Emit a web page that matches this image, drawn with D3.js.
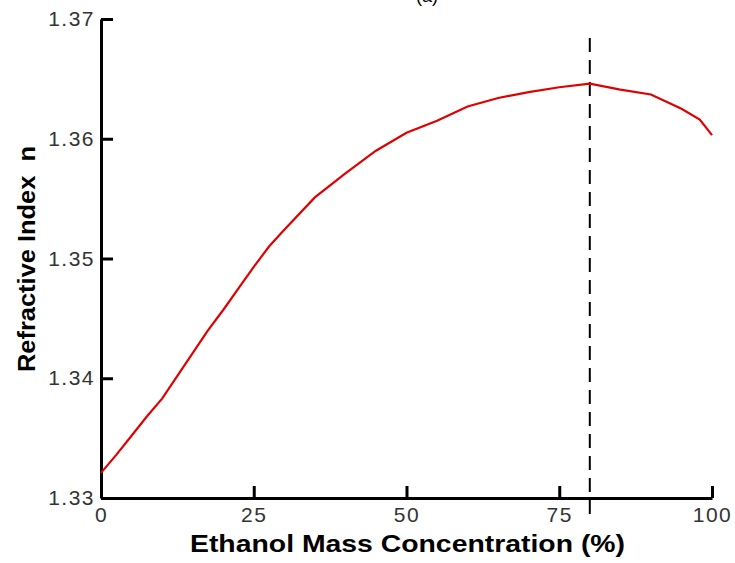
<!DOCTYPE html>
<html>
<head>
<meta charset="utf-8">
<script src="https://cdn.jsdelivr.net/npm/d3@7"></script>
<style>
  body { margin: 0; background: #fff; }
  svg { display: block; }
</style>
</head>
<body>
<div id="graph"></div>
<script>
// ethanol mass concentration (%) vs refractive index
var concentration = [0, 2.5, 5, 7.5, 10, 12.5, 15, 17.5, 20, 22.5, 25, 27.5, 30, 35, 40, 45, 50, 55, 60, 65, 70, 75, 80, 85, 90, 95, 98, 100];
var refractiveIndex = [1.3321, 1.3336, 1.3352, 1.3368, 1.3383, 1.3402, 1.3421, 1.3440, 1.3457, 1.3475, 1.3493, 1.3510, 1.3524, 1.3551, 1.3571, 1.3590, 1.3605, 1.3615, 1.3627, 1.3634, 1.3639, 1.3643, 1.3646, 1.3641, 1.3637, 1.3625, 1.3616, 1.3603];
var xTicks = [0, 25, 50, 75, 100];
var yTicks = [1.33, 1.34, 1.35, 1.36, 1.37];
var markerX = 80;

var width = 735, height = 563;

var svg = d3.select("#graph").append("svg")
    .attr("width", width)
    .attr("height", height);

var x = d3.scaleLinear().domain([0, 100]).range([101, 712]);
var y = d3.scaleLinear().domain([1.33, 1.37]).range([498, 19]);

var tickFont = "'Liberation Sans', Arial, sans-serif";

// x axis, ticks pointing inward
var xAxis = svg.append("g")
    .attr("transform", "translate(0," + y(1.33) + ")")
    .call(d3.axisBottom(x).tickValues(xTicks).tickSizeInner(-12).tickSizeOuter(0).tickPadding(9).tickFormat(d3.format("d")));
xAxis.select(".domain").attr("stroke-width", 3);
xAxis.selectAll(".tick line").attr("stroke-width", 3);
xAxis.selectAll(".tick text")
    .attr("font-family", tickFont).attr("font-size", 21)
    .attr("letter-spacing", 1.5).attr("fill", "#333");

// y axis
var yAxis = svg.append("g")
    .attr("transform", "translate(" + x(0) + ",0)")
    .call(d3.axisLeft(y).tickValues(yTicks).tickSizeInner(-12).tickSizeOuter(0).tickPadding(6).tickFormat(d3.format(".2f")));
yAxis.select(".domain").attr("stroke-width", 3);
yAxis.selectAll(".tick line").attr("stroke-width", 3);
yAxis.selectAll(".tick text")
    .attr("font-family", tickFont).attr("font-size", 21)
    .attr("letter-spacing", 1.5).attr("fill", "#333");

// dashed marker line
svg.append("line")
    .attr("x1", x(markerX)).attr("x2", x(markerX))
    .attr("y1", 38).attr("y2", 516)
    .attr("stroke", "#000")
    .attr("stroke-width", 2)
    .attr("stroke-dasharray", "14,8");

// curve
var pts = concentration.map(function(c, i) { return [c, refractiveIndex[i]]; });
var line = d3.line()
    .x(function(d) { return x(d[0]); })
    .y(function(d) { return y(d[1]); });

svg.append("path")
    .datum(pts)
    .attr("d", line)
    .attr("fill", "none")
    .attr("stroke", "#e00000")
    .attr("stroke-width", 2.2);

// labels
svg.append("text")
    .attr("x", 190).attr("y", 552)
    .attr("font-family", "'Liberation Sans', Arial, sans-serif")
    .attr("font-weight", "bold")
    .attr("font-size", 24)
    .attr("textLength", 435)
    .attr("lengthAdjust", "spacingAndGlyphs")
    .text("Ethanol Mass Concentration (%)");

svg.append("text")
    .attr("transform", "translate(35,372) rotate(-90)")
    .attr("font-family", "'Liberation Sans', Arial, sans-serif")
    .attr("font-weight", "bold")
    .attr("font-size", 24)
    .attr("textLength", 226)
    .attr("lengthAdjust", "spacingAndGlyphs")
    .style("white-space", "pre")
    .text("Refractive Index  n");

svg.append("text")
    .attr("x", 427).attr("y", 2)
    .attr("text-anchor", "middle")
    .attr("font-family", tickFont)
    .attr("font-size", 18)
    .text("(a)");
</script>
</body>
</html>
